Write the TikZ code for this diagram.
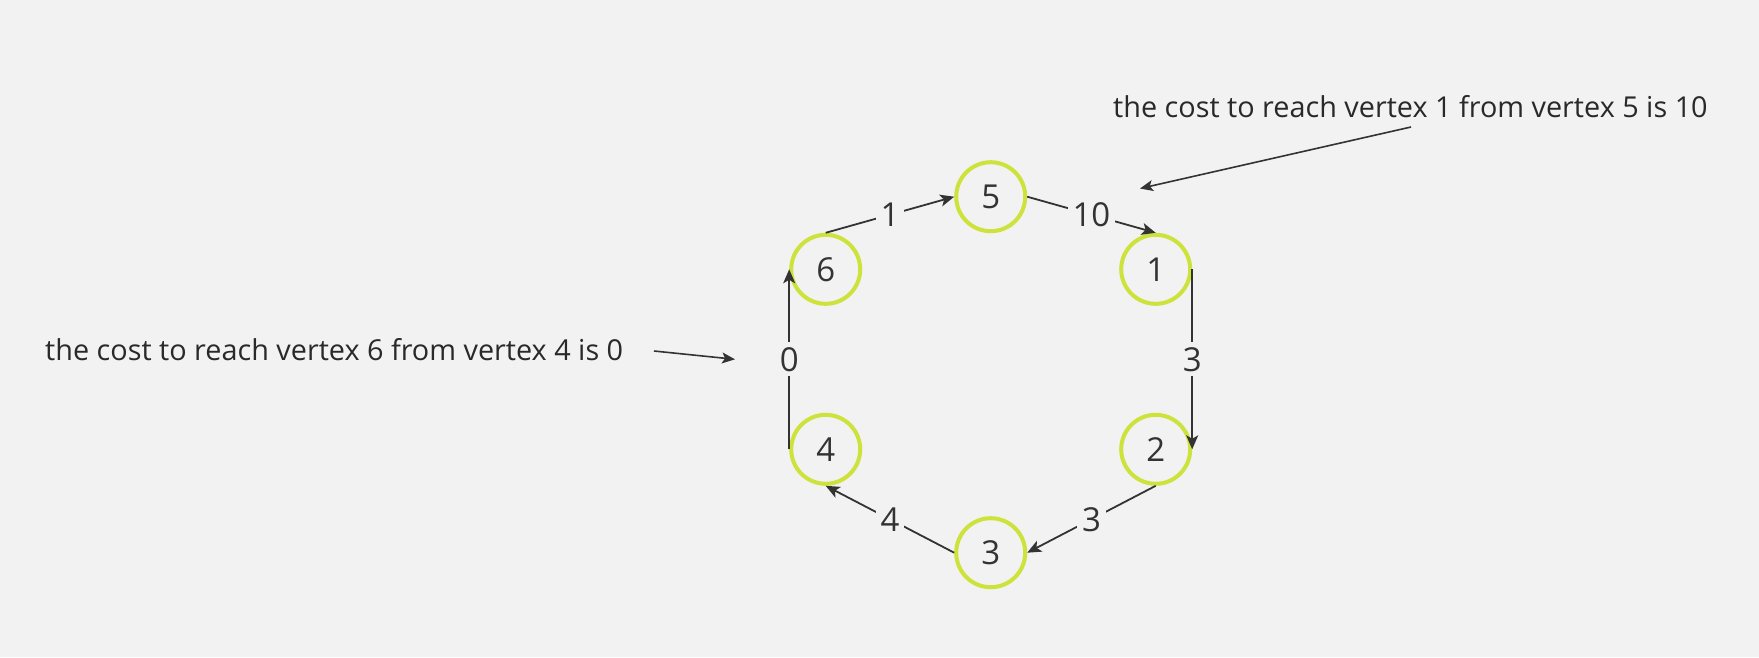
\documentclass[tikz,border=0pt]{standalone}
\usepackage{fontspec}
\setmainfont{Open Sans}
\usetikzlibrary{arrows.meta}
\definecolor{bg}{HTML}{F2F2F2}
\definecolor{ring}{HTML}{CDE23A}
\definecolor{ink}{HTML}{333333}
\tikzset{
  vert/.style={circle,draw=ring,line width=4pt,minimum size=69pt,inner sep=0pt,text=ink,font=\fontsize{33}{38}\selectfont},
  edge/.style={draw=ink,line width=1.8pt,-{Stealth[length=14pt,width=12pt,inset=3.5pt]}},
  elabel/.style={fill=bg,inner sep=5pt,text=ink,font=\fontsize{33}{38}\selectfont},
  note/.style={text=ink!80!black,font=\fontsize{28.8}{34}\selectfont,inner sep=0pt},
  pointer/.style={draw=ink,line width=1.6pt,-{Stealth[length=13pt,width=11pt,inset=3pt]}}
}
\begin{document}
\begin{tikzpicture}[x=1pt,y=-1pt]
\fill[bg] (0,0) rectangle (1759,657);
\useasboundingbox (0,0) rectangle (1759,657);
\node[vert] (n5) at (990.7,196.7) {5};
\node[vert] (n6) at (825.7,269.3) {6};
\node[vert] (n1) at (1155.7,269.3) {1};
\node[vert] (n4) at (825.7,449.3) {4};
\node[vert] (n2) at (1155.7,449.3) {2};
\node[vert] (n3) at (990.7,552.7) {3};
\draw[edge] (n6.north) -- node[elabel] {1} (n5.west);
\draw[edge] (n5.east) -- node[elabel] {10} (n1.north);
\draw[edge] (n1.east) -- node[elabel] {3} (n2.east);
\draw[edge] (n2.south) -- node[elabel] {3} (n3.east);
\draw[edge] (n3.west) -- node[elabel] {4} (n4.south);
\draw[edge] (n4.west) -- node[elabel] {0} (n6.west);
\node[note,anchor=base west] (t1) at (45,360.7) {the cost to reach vertex 6 from vertex 4 is 0};
\node[note,anchor=base west] (t2) at (1113,117) {the cost to reach vertex 1 from vertex 5 is 10};
\coordinate (a1s) at (654,351);
\coordinate (a1e) at (735,359.3);
\coordinate (a2s) at (1411,127);
\coordinate (a2e) at (1140,188.5);
\draw[pointer] (a1s) -- (a1e);
\draw[pointer] (a2s) -- (a2e);
\end{tikzpicture}
\end{document}
